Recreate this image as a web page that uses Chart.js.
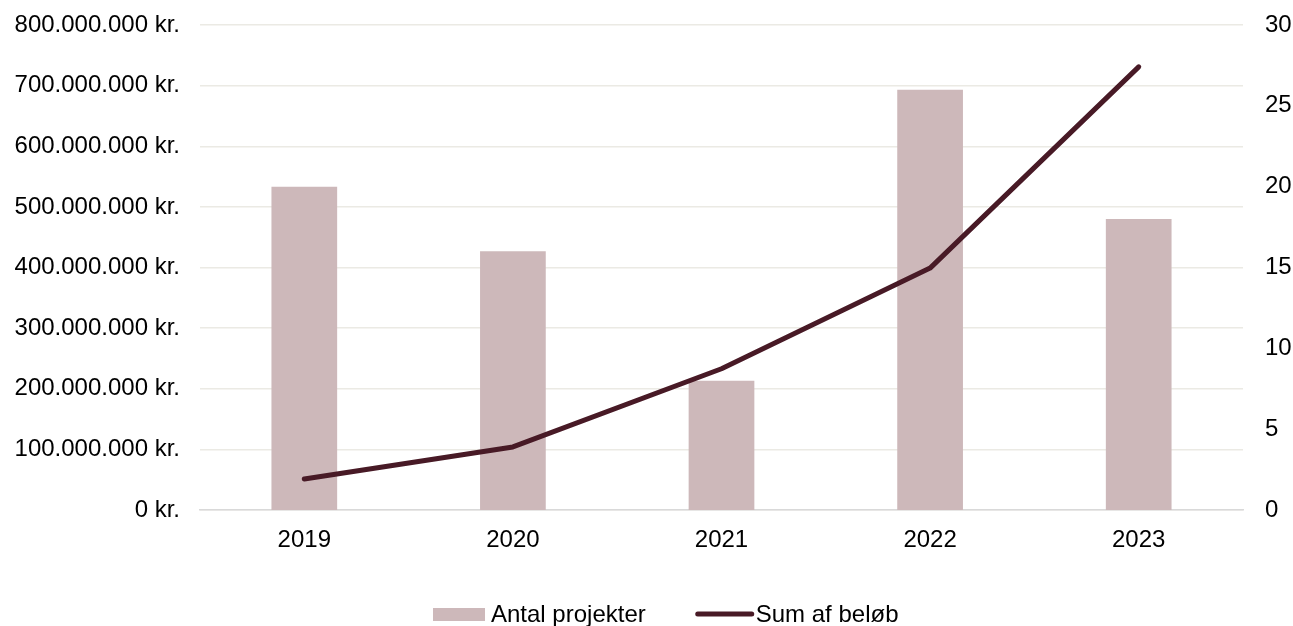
<!DOCTYPE html>
<html lang="da">
<head>
<meta charset="utf-8">
<title>Antal projekter og sum af beløb</title>
<script src="https://cdn.jsdelivr.net/npm/chart.js@4/dist/chart.umd.min.js"></script>
<style>
  html, body { margin: 0; padding: 0; background: #fff; }
  #wrap { width: 1293px; height: 626px; }
</style>
</head>
<body>
<div id="wrap"><canvas id="chart" width="1293" height="626"></canvas></div>
<script>
// Data
const years = ['2019', '2020', '2021', '2022', '2023'];
const antalProjekter = [20, 16, 8, 26, 18];
const sumBeloeb = [51000000, 104000000, 233000000, 399000000, 731000000];

const barColor = '#cdb8ba';
const lineColor = '#481a26';
const fontFamily = '"Liberation Sans", Arial, sans-serif';
const fontSize = 24;

// Dansk talformat: 800.000.000 kr.
function kr(v) {
    return String(Math.round(v)).replace(/\B(?=(\d{3})+(?!\d))/g, '.') + ' kr.';
}

// Egen legende nederst, tegnet som tekst på canvas
const bottomLegend = {
    id: 'bottomLegend',
    afterDraw(chart) {
        const ctx = chart.ctx;
        const y = 614;
        ctx.save();
        ctx.font = fontSize + 'px ' + fontFamily;
        ctx.textBaseline = 'middle';
        let x = 433;
        ctx.fillStyle = barColor;
        ctx.fillRect(x, y - 6, 52, 13);
        x += 58;
        ctx.fillStyle = '#000';
        ctx.fillText('Antal projekter', x, y + 1);
        x += ctx.measureText('Antal projekter').width + 50;
        ctx.strokeStyle = lineColor;
        ctx.lineWidth = 5;
        ctx.lineCap = 'round';
        ctx.beginPath();
        ctx.moveTo(x + 2, y);
        ctx.lineTo(x + 56, y);
        ctx.stroke();
        x += 60;
        ctx.fillText('Sum af beløb', x, y + 1);
        ctx.restore();
    }
};

new Chart(document.getElementById('chart'), {
    data: {
        labels: years,
        datasets: [
            {
                type: 'line',
                label: 'Sum af beløb',
                data: sumBeloeb,
                yAxisID: 'yLeft',
                borderColor: lineColor,
                backgroundColor: lineColor,
                borderWidth: 5,
                borderCapStyle: 'round',
                borderJoinStyle: 'round',
                pointRadius: 0,
                tension: 0,
                order: 0
            },
            {
                type: 'bar',
                label: 'Antal projekter',
                data: antalProjekter,
                yAxisID: 'yRight',
                backgroundColor: barColor,
                categoryPercentage: 1,
                barPercentage: 0.315,
                order: 1
            }
        ]
    },
    options: {
        responsive: false,
        animation: false,
        layout: { padding: { top: 25, left: 0, right: 0, bottom: 0 } },
        plugins: {
            legend: { display: false },
            tooltip: { enabled: false }
        },
        scales: {
            x: {
                grid: { display: false, drawTicks: false },
                border: { display: true, color: '#d9d9d9', width: 1.5 },
                ticks: {
                    color: '#000',
                    font: { family: fontFamily, size: fontSize },
                    padding: 16
                },
                afterFit(scale) { scale.height = 116; }
            },
            yLeft: {
                position: 'left',
                min: 0,
                max: 800000000,
                grid: { color: '#ebeae4', lineWidth: 1.5, drawTicks: false },
                border: { display: false },
                ticks: {
                    stepSize: 100000000,
                    color: '#000',
                    font: { family: fontFamily, size: fontSize },
                    padding: 20,
                    callback: v => kr(v)
                },
                afterFit(scale) {
                    scale.width = 200;
                    scale.paddingTop = 0;
                    scale.paddingBottom = 0;
                }
            },
            yRight: {
                position: 'right',
                min: 0,
                max: 30,
                grid: { display: false, drawTicks: false },
                border: { display: false },
                ticks: {
                    stepSize: 5,
                    color: '#000',
                    font: { family: fontFamily, size: fontSize },
                    padding: 22
                },
                afterFit(scale) {
                    scale.width = 50;
                    scale.paddingTop = 0;
                    scale.paddingBottom = 0;
                }
            }
        }
    },
    plugins: [bottomLegend]
});
</script>
</body>
</html>
